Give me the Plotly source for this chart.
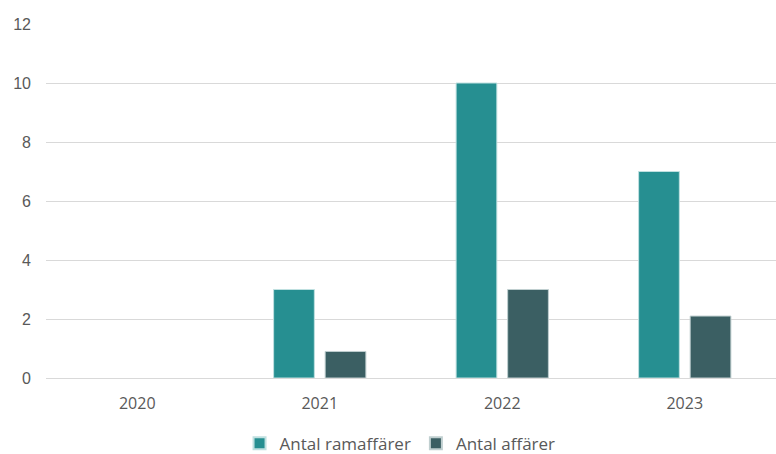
import plotly.graph_objects as go

years = ["2020", "2021", "2022", "2023"]
ramaffarer = [0, 3, 10, 7]
affarer = [0, 0.9, 3, 2.1]
yticks = [0, 2, 4, 6, 8, 10, 12]

def outline(vals):
    return [0 if v == 0 else 1 for v in vals]

fig = go.Figure()
fig.add_trace(go.Bar(x=years, y=ramaffarer, name="Antal ramaffärer",
                     marker=dict(color="#268F91",
                                 line=dict(color="#BFE0E0", width=outline(ramaffarer)))))
fig.add_trace(go.Bar(x=years, y=affarer, name="Antal affärer",
                     marker=dict(color="#3B5F63",
                                 line=dict(color="#C0CFD0", width=outline(affarer)))))

fig.update_layout(
    width=776, height=454,
    margin=dict(l=46, r=0, t=24, b=76, autoexpand=False),
    plot_bgcolor="white", paper_bgcolor="white",
    barmode="group", bargap=0.435, bargroupgap=0.21,
    font=dict(family="Open Sans, Noto Sans, sans-serif", color="#595959", size=16),
    legend=dict(orientation="h", x=0.485, xanchor="center", y=-0.135, yanchor="top",
                font=dict(size=17), itemsizing="constant", itemwidth=30),
    xaxis=dict(showgrid=False, showline=False, ticks="", tickfont=dict(size=16),
               ticklabelstandoff=14),
    yaxis=dict(range=[0, 12], tickvals=yticks, showgrid=True, gridcolor="#D9D9D9",
               gridwidth=1, zeroline=True, zerolinecolor="#D9D9D9", zerolinewidth=1,
               ticks="", tickfont=dict(family="Liberation Sans, Arial, sans-serif", size=16),
               ticklabelstandoff=14),
)
fig.write_html("out.html")
